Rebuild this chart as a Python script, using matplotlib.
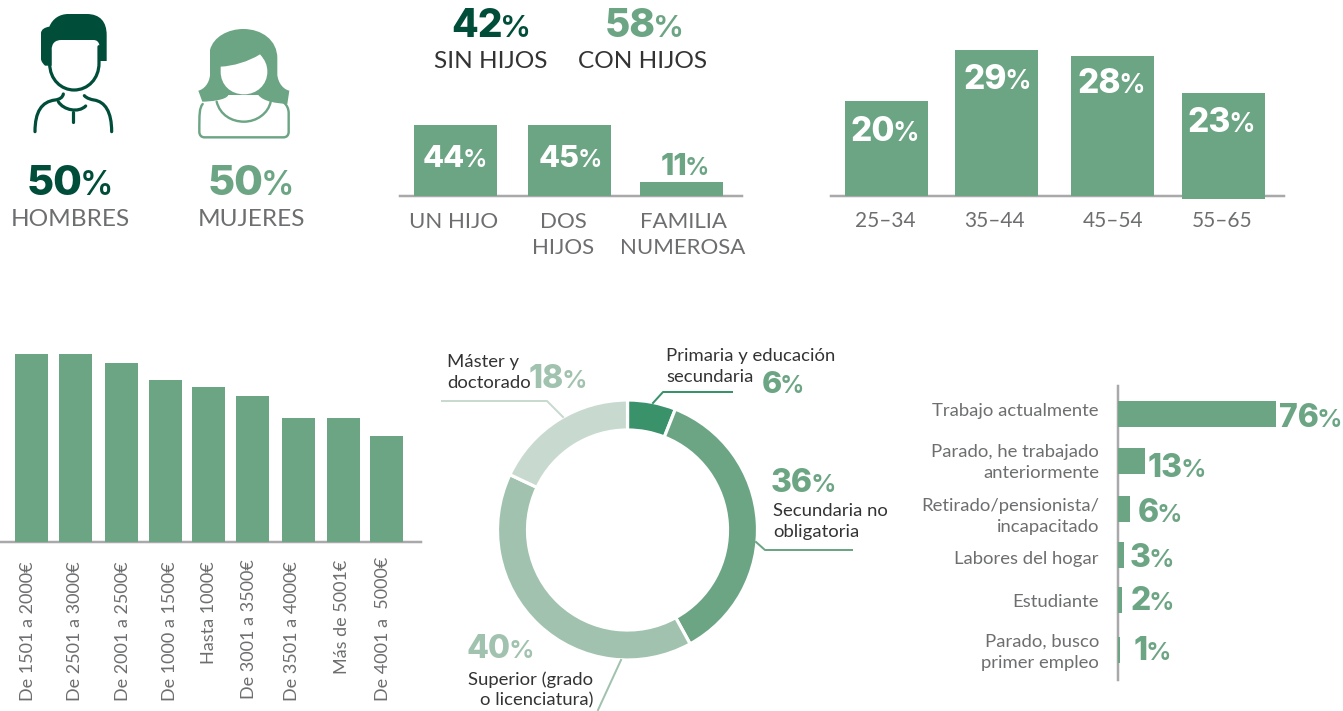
import matplotlib
matplotlib.use("Agg")
import matplotlib.pyplot as plt
from matplotlib.path import Path
from matplotlib.patches import PathPatch

plt.rcParams['font.family'] = ['Lato', 'DejaVu Sans']

# ---------- data ----------
gender_labels = ['HOMBRES', 'MUJERES']
gender_values = [50, 50]
kids_labels = ['SIN HIJOS', 'CON HIJOS']
kids_values = [42, 58]
family_labels = [['UN HIJO'], ['DOS', 'HIJOS'], ['FAMILIA', 'NUMEROSA']]
family_values = [44, 45, 11]
family_bar_heights = [71, 71, 14]
age_labels = ['25–34', '35–44', '45–54', '55–65']
age_values = [20, 29, 28, 23]
age_bar_heights = [95, 146, 140, 103]
income_labels = ['De 1501 a 2000€', 'De 2501 a 3000€', 'De 2001 a 2500€', 'De 1000 a 1500€',
                 'Hasta 1000€', 'De 3001 a 3500€', 'De 3501 a 4000€', 'Más de 5001€', 'De 4001 a  5000€']
income_values = [188, 188, 179, 162, 155, 146, 124, 124, 106]
edu_labels = ['Primaria y educación secundaria', 'Secundaria no obligatoria',
              'Superior (grado o licenciatura)', 'Máster y doctorado']
edu_values = [6, 36, 40, 18]
job_labels = [['Trabajo actualmente'], ['Parado, he trabajado', 'anteriormente'],
              ['Retirado/pensionista/', 'incapacitado'], ['Labores del hogar'],
              ['Estudiante'], ['Parado, busco', 'primer empleo']]
job_values = [76, 13, 6, 3, 2, 1]

# ---------- style ----------
W, H = 1343, 711
DARK = '#004d3a'
GREEN = '#6ca584'
GRAY_AX = '#a9a8ab'
GRAY_TX = '#6d6e70'
INK = '#333333'
EDU_COLORS = ['#3a926b', '#6ca584', '#a1c2ae', '#c8dacf']
PX = 72 / 100  # points per pixel
NUM_FONT = ['Inter', 'Lato', 'DejaVu Sans']

fig = plt.figure(figsize=(W / 100, H / 100), dpi=100, facecolor='white')
renderer = fig.canvas.get_renderer()


def px_axes(l, t, r, b):
    ax = fig.add_axes([l / W, 1 - b / H, (r - l) / W, (b - t) / H])
    ax.patch.set_alpha(0)
    ax.set_xticks([])
    ax.set_yticks([])
    for s in ax.spines.values():
        s.set_visible(False)
    return ax


ov = fig.add_axes([0, 0, 1, 1], zorder=10)
ov.set_xlim(0, W)
ov.set_ylim(H, 0)
ov.axis('off')
ov.patch.set_alpha(0)


def label(x, y, s, size=16, color=GRAY_TX, ha='center', weight='normal', **kw):
    return ov.text(x, y, s, fontsize=size, color=color, ha=ha, va='baseline', weight=weight, **kw)


def value(cx, y, v, size, color):
    """number in heavy weight followed by a lighter, smaller % sign, centred at cx"""
    a = ov.text(cx, y, str(v), fontsize=size, color=color, ha='left', va='baseline', weight='heavy', family=NUM_FONT)
    b = ov.text(cx, y, '%', fontsize=size * 0.8, color=color, ha='left', va='baseline', weight='semibold', family=NUM_FONT)
    wa = a.get_window_extent(renderer).width
    wb = b.get_window_extent(renderer).width
    gap = -0.1 * size
    left = cx - (wa + wb + gap) / 2
    a.set_x(left)
    b.set_x(left + wa + gap)


def bars_v(l, t, r, base, xs, w, heights, bottoms=None):
    ax = px_axes(l, t, r, base)
    ax.set_xlim(l, r)
    ax.set_ylim(0, base - t)
    ax.bar(xs, heights, width=w, align='edge', bottom=bottoms, color=GREEN, zorder=3, clip_on=False)
    ax.spines['bottom'].set_visible(True)
    ax.spines['bottom'].set_color(GRAY_AX)
    ax.spines['bottom'].set_linewidth(2.5 * PX)
    return ax


# ---------- icons ----------
def z(pts, ox=0, oy=0):
    return [(ox + x / 3, oy + y / 3) for x, y in pts]


def bez(start, *segs):
    verts = [start]
    codes = [Path.MOVETO]
    for s in segs:
        if len(s) == 1:
            verts += s
            codes += [Path.LINETO]
        else:
            verts += s
            codes += [Path.CURVE4] * 3
    return verts, codes


def shape(start, *segs, fc='none', ec='none', lw=0, close=False, zorder=2):
    v, c = bez(start, *segs)
    v = z(v)
    if close:
        v.append(v[0])
        c.append(Path.CLOSEPOLY)
    ov.add_patch(PathPatch(Path(v, c), fc=fc, ec=ec, lw=lw * PX, capstyle='round', joinstyle='round', zorder=zorder))


# man
shape((123, 100), [(123, 88), (135, 82), (148, 80)], [(158, 55), (180, 42), (205, 42)], [(260, 42)],
      [(300, 42), (320, 65), (320, 105)], [(320, 183)], [(298, 183)], [(298, 135)],
      [(296, 125), (290, 120), (280, 120)], [(185, 120)], [(165, 120), (155, 130), (155, 150)],
      [(155, 197)], [(135, 197)], [(123, 185), (123, 180), (123, 175)], fc=DARK, close=True)
shape((149, 150), [(149, 190)], [(149, 240), (185, 270), (222, 270)], [(265, 270), (297, 235), (297, 190)],
      [(297, 140)], ec=DARK, lw=3.2)
shape((190, 282), [(188, 292), (180, 298), (165, 300)], [(125, 305), (105, 335), (105, 395)], ec=DARK, lw=3.2)
shape((253, 287), [(262, 296), (272, 298), (282, 300)], [(315, 305), (335, 335), (335, 395)], ec=DARK, lw=3.2)
shape((175, 305), [(190, 330), (235, 340), (257, 318)], ec=DARK, lw=3.2)
shape((220, 335), [(220, 365)], ec=DARK, lw=3.2)

# woman
shape((630, 225), [(630, 150)], [(640, 110), (685, 87), (730, 87)], [(785, 87), (832, 120), (832, 175)],
      [(832, 225)], [(835, 250), (850, 268), (868, 272)], [(862, 312)], [(830, 310), (790, 305), (775, 285)],
      [(685, 285)], [(680, 300), (630, 305), (607, 305)], [(595, 272)], [(612, 268), (628, 250), (630, 225)],
      fc=GREEN, close=True)
shape((662, 200), [(700, 198), (745, 185), (780, 163)], [(795, 180), (802, 195), (802, 215)],
      [(802, 255), (770, 283), (732, 283)], [(692, 283), (662, 255), (662, 215)], fc='white', close=True, zorder=3)
shape((608, 312), [(598, 325), (598, 340), (598, 395)], [(598, 406), (604, 412), (614, 412)], [(850, 412)],
      [(860, 412), (866, 406), (866, 395)], [(866, 340)], [(866, 325), (860, 315), (852, 308)], ec=GREEN, lw=2.4)
shape((650, 305), [(660, 345), (695, 365), (732, 365)], [(770, 365), (805, 340), (812, 305)], ec=GREEN, lw=2.4)

# ---------- gender ----------
value(70, 195, gender_values[0], 30, DARK)
value(251, 195, gender_values[1], 30, GREEN)
label(70, 226, gender_labels[0], size=17.6)
label(252, 226, gender_labels[1], size=17.6)

# ---------- children ----------
value(491, 37, kids_values[0], 28, DARK)
value(644, 37, kids_values[1], 28, GREEN)
label(491, 68, kids_labels[0], size=17.6, color=INK)
label(643, 68, kids_labels[1], size=17.6, color=INK)

bars_v(400, 110, 742, 196, [414, 528, 640], 83, family_bar_heights)
value(455, 167, family_values[0], 22, 'white')
value(570, 167, family_values[1], 22, 'white')
value(685, 175, family_values[2], 22, GREEN)
for cx, lines in zip([454, 563, 683], family_labels):
    for i, s in enumerate(lines):
        label(cx, 228 + 26.5 * i, s, size=16)

# ---------- age ----------
bars_v(831, 40, 1284, 196, [845, 955, 1071, 1182], 83, age_bar_heights[:3] + [106], bottoms=[0, 0, 0, -3])
for cx, y, v in zip([885, 997, 1111, 1221], [141, 89, 93, 132], age_values):
    value(cx, y, v, 24, 'white')
for cx, s in zip([885, 994, 1113, 1222], age_labels):
    label(cx, 227, s, size=15)

# ---------- income ----------
bars_v(1, 340, 421, 542, [15, 59, 105, 149, 192, 236, 282, 327, 370], 33, income_values)
for x, yb, s in zip([28, 75, 123, 170, 209, 249, 292, 342, 383],
                    [701, 701, 701, 701, 664, 699, 701, 674, 701], income_labels):
    ov.text(x, yb, s, rotation=90, fontsize=13, color=GRAY_TX, ha='center', va='bottom')

# ---------- education donut ----------
R = 130
pie = px_axes(627.5 - R, 530 - R, 627.5 + R, 530 + R)
pie.pie(edu_values, colors=EDU_COLORS, startangle=90, counterclock=False, radius=1,
        wedgeprops=dict(width=30 / R, edgecolor='white', linewidth=3.2 * PX))
pie.set_xlim(-1, 1)
pie.set_ylim(-1, 1)
pie.set_aspect('equal')

ov.plot([653, 663, 732], [403, 392, 392], color=EDU_COLORS[0], lw=2 * PX)
ov.plot([756, 765, 852], [542, 550, 550], color=EDU_COLORS[1], lw=2 * PX)
ov.plot([621, 598], [660, 710], color=EDU_COLORS[2], lw=2 * PX)
ov.plot([563, 547, 442], [417, 401, 401], color=EDU_COLORS[3], lw=2 * PX)

value(783, 393, edu_values[0], 22, GREEN)
value(803, 492, edu_values[1], 23, GREEN)
value(500, 658, edu_values[2], 23, EDU_COLORS[2])
value(558, 388, edu_values[3], 23, EDU_COLORS[2])

ES = 13.3
label(666, 361, 'Primaria y educación', size=ES, color=INK, ha='left')
label(666, 382, 'secundaria', size=ES, color=INK, ha='left')
label(773, 516, 'Secundaria no', size=ES, color=INK, ha='left')
label(773, 537, 'obligatoria', size=ES, color=INK, ha='left')
label(593, 685, 'Superior (grado', size=ES, color=INK, ha='right')
label(593, 705, 'o licenciatura)', size=ES, color=INK, ha='right')
label(447, 367, 'Máster y', size=ES, color=INK, ha='left')
label(447, 388, 'doctorado', size=ES, color=INK, ha='left')

# ---------- occupation ----------
job_tops = [401, 448, 496, 542, 587, 637]
job = px_axes(1117.7, 386, 1343, 680)
job.set_xlim(0, (1343 - 1117.7) / 2.08)
job.set_ylim(680, 386)
job.barh([t + 13 for t in job_tops], job_values, height=26, color=GREEN, zorder=3)
job.spines['left'].set_visible(True)
job.spines['left'].set_color(GRAY_AX)
job.spines['left'].set_linewidth(2.5 * PX)

for base, lines in zip([[416], [457, 478], [511, 532], [564], [607], [647, 668]], job_labels):
    for y, s in zip(base, lines):
        label(1099, y, s, size=13.3, ha='right')
for cx, y, v in zip([1311, 1177, 1160, 1152, 1152, 1152], [427, 477, 522, 567, 610, 660], job_values):
    value(cx, y, v, 23, GREEN)

fig.savefig('out.png', dpi=100, facecolor='white')
